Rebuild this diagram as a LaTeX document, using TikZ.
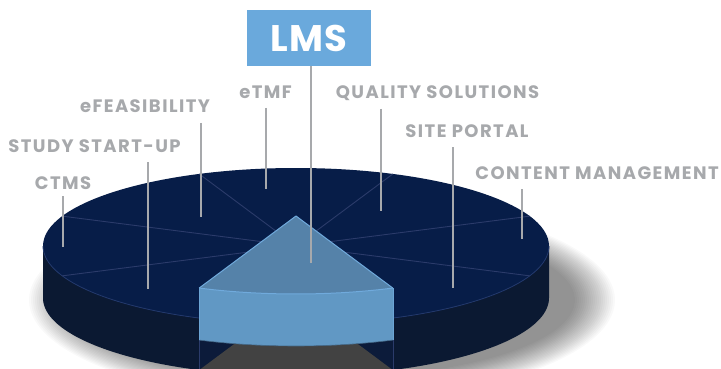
\documentclass[tikz,border=0pt]{standalone}
\usepackage{fontspec}
\newfontfamily\lblfont{Poppins}[LetterSpace=8]
\newfontfamily\lmsfont{Poppins}[LetterSpace=3]
\definecolor{topnavy}{HTML}{071D48}
\definecolor{sidenavy}{HTML}{0B1932}
\definecolor{wallnavy}{HTML}{0C1B3A}
\definecolor{divline}{HTML}{2B3B6A}
\definecolor{rimline}{HTML}{22386C}
\definecolor{slicetop}{HTML}{5582A9}
\definecolor{slicefront}{HTML}{6198C4}
\definecolor{sliceedge}{HTML}{70AADC}
\definecolor{floorgray}{HTML}{424242}
\definecolor{lmsblue}{HTML}{6AA9DC}
\definecolor{labelgray}{HTML}{A7A9AC}
\def\pcx{296}\def\pcy{246}\def\prx{253}\def\pry{78}\def\pth{52}\def\plift{30}
\tikzset{
  lbl/.style={text=labelgray, font=\lblfont\bfseries\fontsize{18}{18}\selectfont, inner sep=0pt, anchor=base},
  leader/.style={draw=labelgray, line width=2pt},
  divider/.style={draw=divline, line width=0.9pt},
}
\begin{document}
\begin{tikzpicture}[x=1pt,y=-1pt]
\useasboundingbox (0,0) rectangle (721,369);
\fill[white] (0,0) rectangle (721,369);
% soft shadow
\foreach \r in {0,2,...,40}{
  \pgfmathsetmacro{\sxr}{253+\r}\pgfmathsetmacro{\syr}{78+0.6*\r}
  \fill[black,opacity=0.022] (322,300) ellipse [x radius=\sxr, y radius=\syr];
}
% named points
\coordinate (O) at (\pcx,\pcy);
\coordinate (Ob) at (\pcx,\pcy+\pth);
\coordinate (A) at ({\pcx+\prx*cos(247.5)},{\pcy-\pry*sin(247.5)});
\coordinate (B) at ({\pcx+\prx*cos(292.5)},{\pcy-\pry*sin(292.5)});
\coordinate (Ab) at ({\pcx+\prx*cos(247.5)},{\pcy+\pth-\pry*sin(247.5)});
\coordinate (Bb) at ({\pcx+\prx*cos(292.5)},{\pcy+\pth-\pry*sin(292.5)});
\coordinate (S) at (\pcx,\pcy-\plift);
\coordinate (As) at ({\pcx+\prx*cos(247.5)},{\pcy-\plift-\pry*sin(247.5)});
\coordinate (Bs) at ({\pcx+\prx*cos(292.5)},{\pcy-\plift-\pry*sin(292.5)});
\coordinate (Asb) at ({\pcx+\prx*cos(247.5)},{\pcy-\plift+\pth-\pry*sin(247.5)});
\coordinate (Bsb) at ({\pcx+\prx*cos(292.5)},{\pcy-\plift+\pth-\pry*sin(292.5)});
% pie side
\fill[sidenavy] plot[domain=180:360,samples=91] ({\pcx+\prx*cos(\x)},{\pcy+\pth-\pry*sin(\x)})
  -- plot[domain=360:180,samples=91] ({\pcx+\prx*cos(\x)},{\pcy-\pry*sin(\x)}) -- cycle;
% top face
\fill[topnavy] (O) ellipse [x radius=\prx, y radius=\pry];
\draw[rimline, line width=0.8pt] plot[domain=180:360,samples=91] ({\pcx+\prx*cos(\x)},{\pcy-\pry*sin(\x)});
% dividers
\foreach \a/\n in {22.5/d1,67.5/d2,112.5/d3,157.5/d4,202.5/d5,337.5/d6}{
  \coordinate (\n) at ({\pcx+\prx*cos(\a)},{\pcy-\pry*sin(\a)});
  \draw[divider] (O) -- (\n);
}
% hole: walls and floor
\fill[wallnavy] (O) -- (A) -- (Ab) -- (Ob) -- cycle;
\fill[wallnavy] (O) -- (B) -- (Bb) -- (Ob) -- cycle;
\draw[divline, line width=0.6pt] (A) -- (Ab) (B) -- (Bb);
\fill[floorgray] (Ob) -- plot[domain=247.5:292.5,samples=30] ({\pcx+\prx*cos(\x)},{\pcy+\pth-\pry*sin(\x)}) -- cycle;
% lifted slice
\fill[slicefront] plot[domain=247.5:292.5,samples=30] ({\pcx+\prx*cos(\x)},{\pcy-\plift-\pry*sin(\x)})
  -- plot[domain=292.5:247.5,samples=30] ({\pcx+\prx*cos(\x)},{\pcy-\plift+\pth-\pry*sin(\x)}) -- cycle;
\draw[slicetop!80!black, line width=0.6pt] plot[domain=247.5:292.5,samples=30] ({\pcx+\prx*cos(\x)},{\pcy-\plift+\pth-\pry*sin(\x)});
\fill[slicetop] (S) -- plot[domain=247.5:292.5,samples=30] ({\pcx+\prx*cos(\x)},{\pcy-\plift-\pry*sin(\x)}) -- cycle;
\draw[sliceedge, line width=1pt, line join=round] (As) -- (S) -- (Bs);
\draw[sliceedge, line width=1pt] plot[domain=247.5:292.5,samples=30] ({\pcx+\prx*cos(\x)},{\pcy-\plift-\pry*sin(\x)});
\draw[sliceedge!70!slicefront, line width=0.6pt] (As) -- (Asb) (Bs) -- (Bsb);
% labels
\node[lbl] (ctms) at (63,189) {CTMS};
\node[lbl] (ssu) at (94.5,152) {STUDY START-UP};
\node[lbl] (efeas) at (145,113) {eFEASIBILITY};
\node[lbl] (etmf) at (265.5,99) {eTMF};
\node[lbl] (qs) at (437.5,99) {QUALITY SOLUTIONS};
\node[lbl] (sp) at (467,137) {SITE PORTAL};
\node[lbl] (cm) at (597,179) {CONTENT MANAGEMENT};
\node[fill=lmsblue, minimum width=124pt, minimum height=56pt, inner sep=0pt, text=white,
  font=\lmsfont\bfseries\fontsize{37}{37}\selectfont] (lms) at (309,38) {LMS};
% leader lines
\coordinate (ctmsT) at (63,196); \coordinate (ctmsB) at (63,247);
\coordinate (ssuT) at (148,162); \coordinate (ssuB) at (148,289);
\coordinate (efT) at (201,123); \coordinate (efB) at (201,217);
\coordinate (etT) at (266,108); \coordinate (etB) at (266,189);
\coordinate (lmsB) at (311,263);
\coordinate (qsT) at (381,109); \coordinate (qsB) at (381,211);
\coordinate (spT) at (453,147); \coordinate (spB) at (453,288);
\coordinate (cmT) at (522,189); \coordinate (cmB) at (522,239);
\draw[leader] (ctmsT) -- (ctmsB);
\draw[leader] (ssuT) -- (ssuB);
\draw[leader] (efT) -- (efB);
\draw[leader] (etT) -- (etB);
\draw[leader] (lms.south -| lmsB) -- (lmsB);
\draw[leader] (qsT) -- (qsB);
\draw[leader] (spT) -- (spB);
\draw[leader] (cmT) -- (cmB);
\end{tikzpicture}
\end{document}
